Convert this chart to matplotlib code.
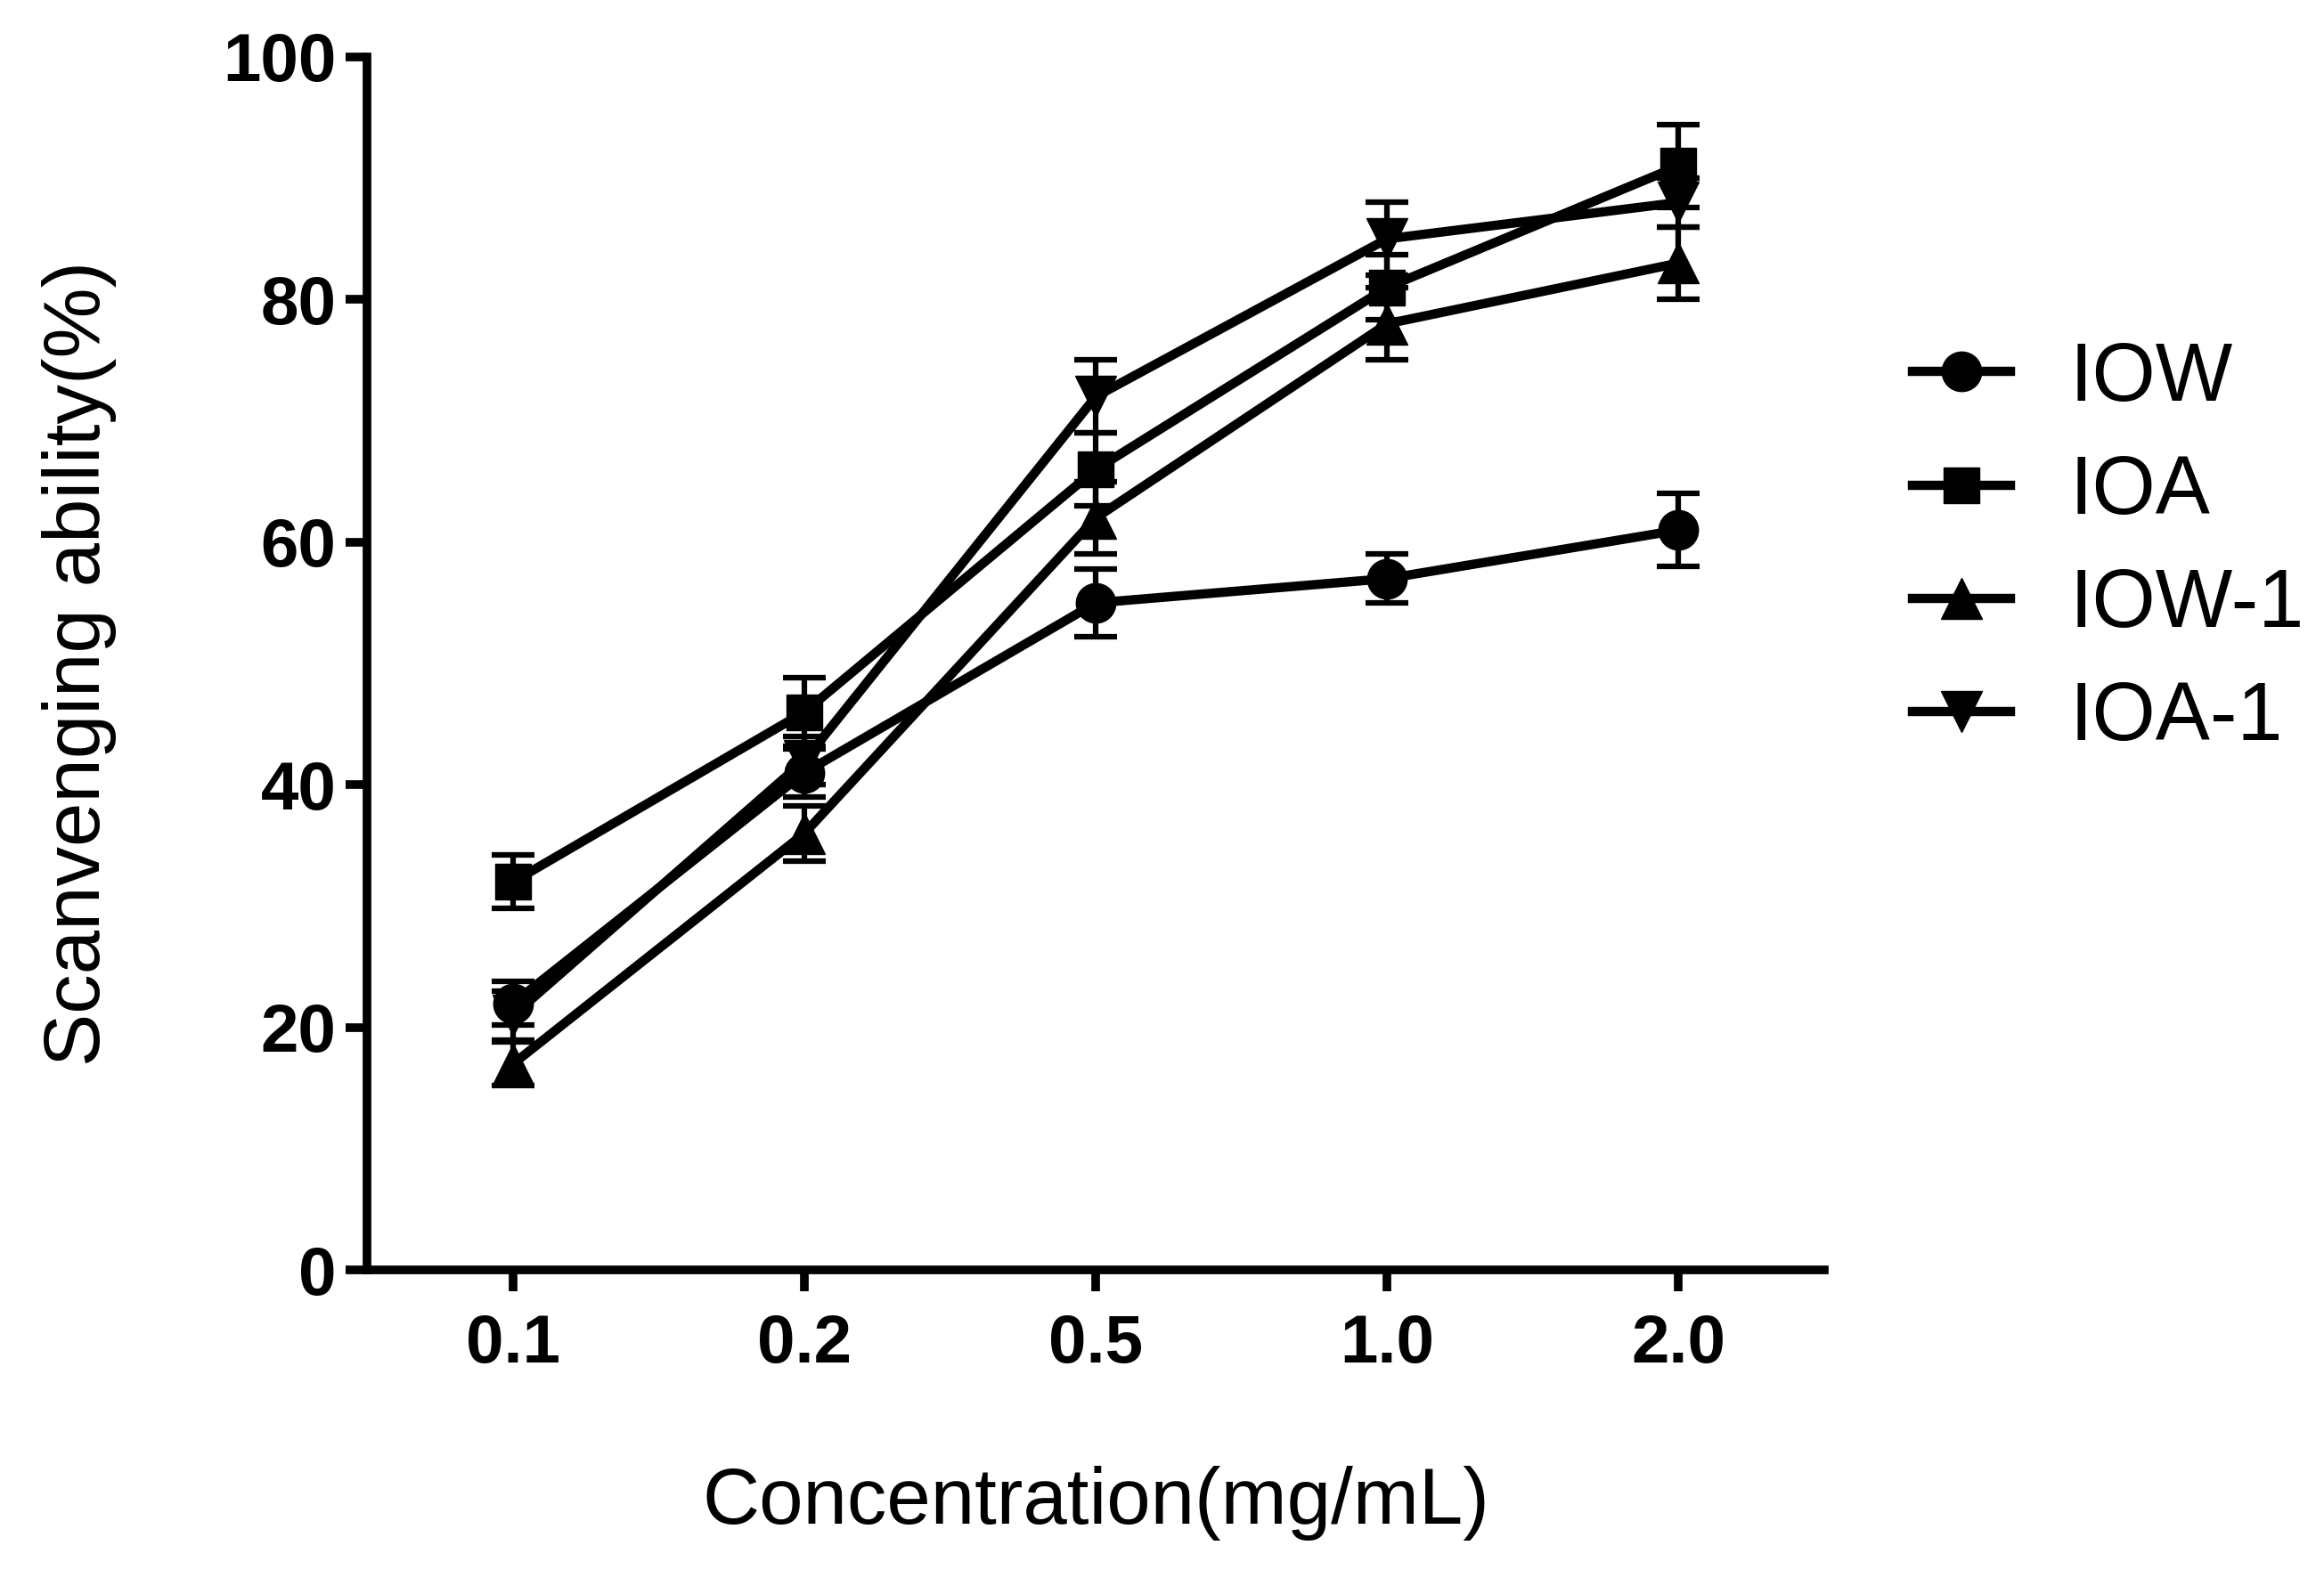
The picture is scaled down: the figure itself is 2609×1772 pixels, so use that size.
import matplotlib
matplotlib.use("Agg")
import matplotlib.pyplot as plt
import numpy as np

concentrations = ["0.1", "0.2", "0.5", "1.0", "2.0"]

iow = [22, 41, 55, 57, 61]
iow_err = [1.8, 2.0, 2.8, 2.0, 3.0]
ioa = [32, 46, 66, 81, 91]
ioa_err = [2.2, 2.8, 3.0, 2.7, 3.4]
iow_1 = [17, 36, 62, 78, 83]
iow_1_err = [1.8, 2.3, 3.0, 3.0, 3.0]
ioa_1 = [21, 42, 72, 85, 88]
ioa_1_err = [2.0, 2.0, 3.0, 3.0, 2.0]

series = [
    ("IOW", iow, iow_err, "o", 32),
    ("IOA", ioa, ioa_err, "s", 29),
    ("IOW-1", iow_1, iow_1_err, "^", 33),
    ("IOA-1", ioa_1, ioa_1_err, "v", 33),
]

tick_font = ["Liberation Sans Narrow", "Liberation Sans"]
label_font = ["Liberation Sans", "DejaVu Sans"]

fig = plt.figure(figsize=(26.09, 17.72), dpi=100)
ax = fig.add_axes([0.158, 0.195, 0.627, 0.769])

x = np.arange(len(concentrations))
for name, vals, errs, mk, ms in series:
    ax.errorbar(x, vals, yerr=errs, fmt="none", ecolor="black",
                elinewidth=4.5, capsize=17, capthick=4.5, zorder=2)
    ax.plot(x, vals, color="black", lw=7.5, marker=mk, markersize=ms,
            markerfacecolor="black", markeredgecolor="black", label=name, zorder=3)

ax.set_xlim(-0.5, 4.5)
ax.set_ylim(0, 100)
ax.set_xticks(x)
ax.set_xticklabels(concentrations)
ax.set_yticks([0, 20, 40, 60, 80, 100])

for s in ["top", "right"]:
    ax.spines[s].set_visible(False)
for s in ["left", "bottom"]:
    ax.spines[s].set_linewidth(7)

ax.tick_params(axis="both", length=17, width=7, color="black")
ax.tick_params(axis="x", pad=18)
ax.tick_params(axis="y", pad=8)
for lab in ax.get_xticklabels() + ax.get_yticklabels():
    lab.set_family(tick_font)
    lab.set_fontweight("bold")
    lab.set_fontsize(55)

ax.set_xlabel("Concentration(mg/mL)", family=label_font, fontsize=64, labelpad=72)
ax.set_ylabel("Scanvenging ability(%)", family=label_font, fontsize=64, labelpad=86)

ax.legend(loc="upper left", bbox_to_anchor=(0.8055, 0.81), bbox_transform=fig.transFigure,
          frameon=False, prop={"family": label_font, "size": 66},
          handlelength=1.2, handletextpad=0.72, labelspacing=0.45, borderpad=0)

fig.savefig("out.png", dpi=100, facecolor="white")
